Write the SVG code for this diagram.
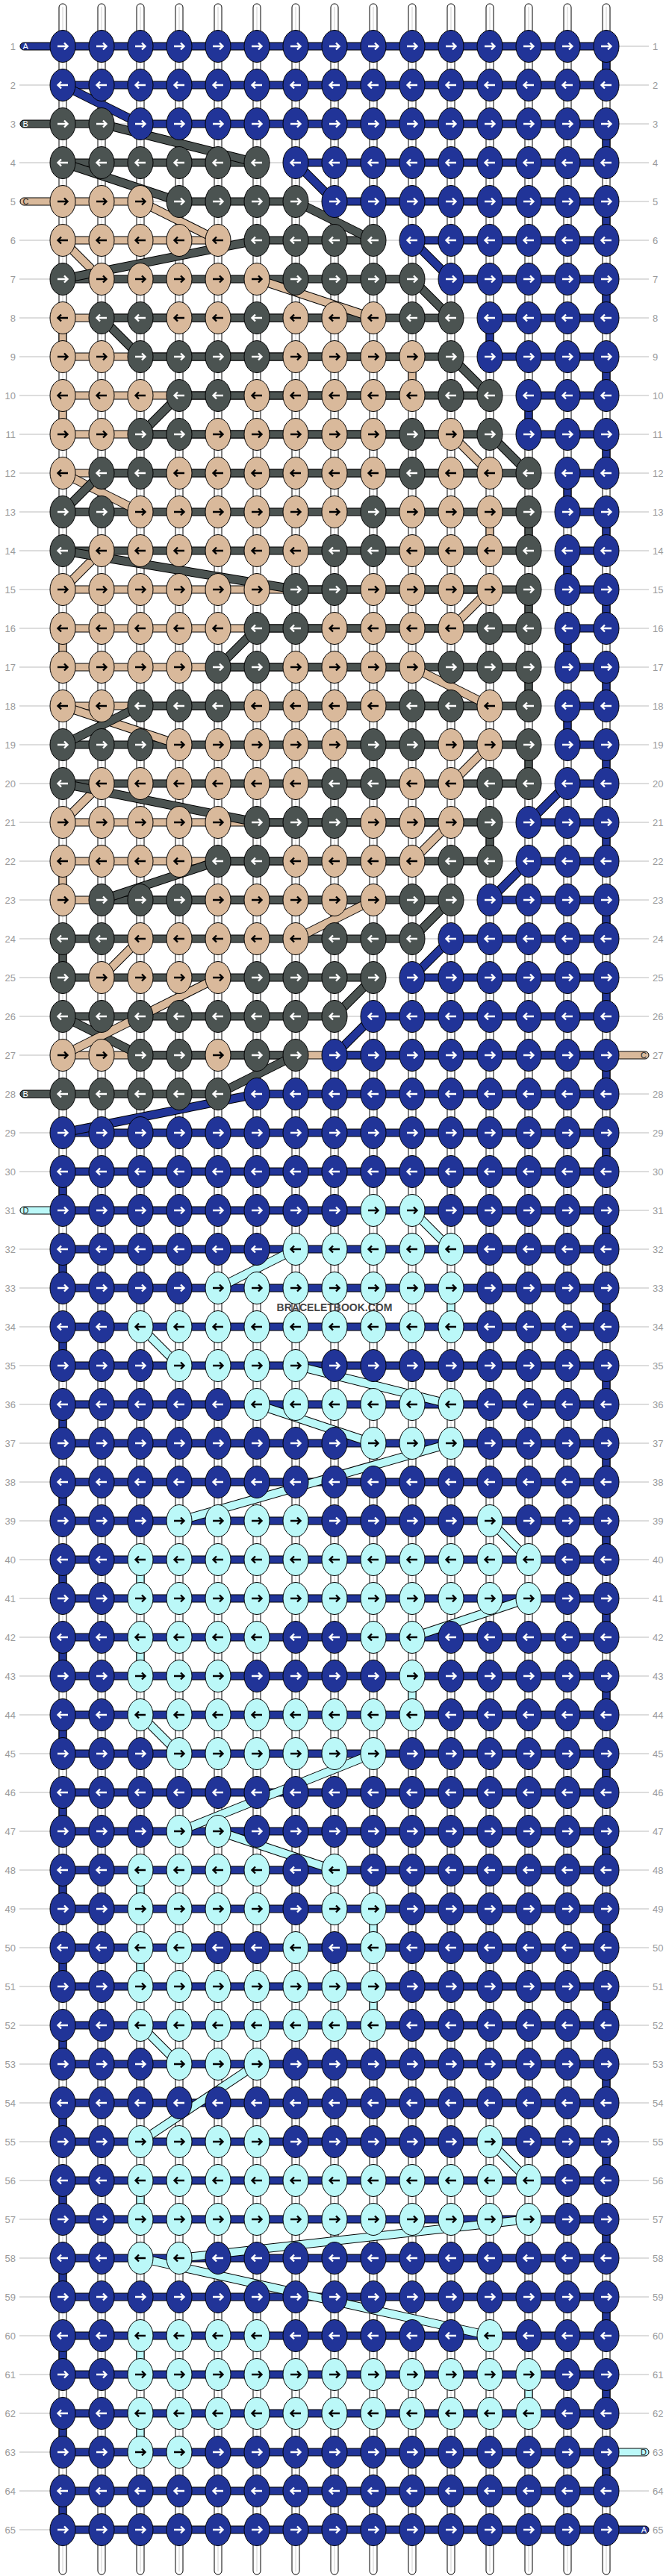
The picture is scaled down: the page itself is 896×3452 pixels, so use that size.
<svg xmlns="http://www.w3.org/2000/svg" xmlns:xlink="http://www.w3.org/1999/xlink" width="896" height="3452" viewBox="0 0 896 3452">
<style>
.ws{fill:#fff;stroke:#000;stroke-width:1}
.wc{stroke:#cfcfcf;stroke-width:1}
.gl{stroke:#bbb;stroke-width:1}
.n{font-family:"Liberation Sans",Arial,sans-serif;font-size:13px;fill:#9a9a9a}
.l{text-anchor:end}
.r{text-anchor:start}
.lb{font-family:"Liberation Sans",Arial,sans-serif;font-size:11px}
.o{stroke:#000;stroke-width:1}
.B{fill:#213498}
.D{fill:#4b5351}
.T{fill:#d9b99b}
.C{fill:#bbf8f8}
.ok{fill:none;stroke:#000;stroke-width:12}
.sB{fill:none;stroke:#213498;stroke-width:10}
.sD{fill:none;stroke:#4b5351;stroke-width:10}
.sT{fill:none;stroke:#d9b99b;stroke-width:10}
.sC{fill:none;stroke:#bbf8f8;stroke-width:10}
.aw{fill:none;stroke:#fff;stroke-width:2.4}
.ak{fill:none;stroke:#000;stroke-width:2.4}
.wm{font-family:"Liberation Sans",Arial,sans-serif;font-size:14px;font-weight:bold;fill:#444;text-anchor:middle}
</style>
<defs>
<path id="ar" d="M-7 0H6M2-4.5L6.5 0L2 4.5"/>
<path id="al" d="M7 0H-6M-2-4.5L-6.5 0L-2 4.5"/>
<g id="BR"><ellipse class="o B" rx="17" ry="21.5"/><use href="#ar" class="aw"/></g>
<g id="BL"><ellipse class="o B" rx="17" ry="21.5"/><use href="#al" class="aw"/></g>
<g id="DR"><ellipse class="o D" rx="17" ry="21.5"/><use href="#ar" class="aw"/></g>
<g id="DL"><ellipse class="o D" rx="17" ry="21.5"/><use href="#al" class="aw"/></g>
<g id="TR"><ellipse class="o T" rx="17" ry="21.5"/><use href="#ar" class="ak"/></g>
<g id="TL"><ellipse class="o T" rx="17" ry="21.5"/><use href="#al" class="ak"/></g>
<g id="CR"><ellipse class="o C" rx="17" ry="21.5"/><use href="#ar" class="ak"/></g>
<g id="CL"><ellipse class="o C" rx="17" ry="21.5"/><use href="#al" class="ak"/></g>
<g id="wstr"><rect class="ws" x="-5" y="5" width="10" height="3445" rx="5"/><line class="wc" x1="0" y1="9" x2="0" y2="3446"/></g>
<g id="gr"><line class="gl" x1="26" y1="0" x2="869" y2="0"/></g>
</defs>
<rect width="896" height="3452" fill="#fff"/>
<g id="guides">
<g transform="translate(0,62)"><use href="#gr"/><text class="n l" x="21" y="4.5">1</text><text class="n r" x="874" y="4.5">1</text></g>
<g transform="translate(0,114)"><use href="#gr"/><text class="n l" x="21" y="4.5">2</text><text class="n r" x="874" y="4.5">2</text></g>
<g transform="translate(0,166)"><use href="#gr"/><text class="n l" x="21" y="4.5">3</text><text class="n r" x="874" y="4.5">3</text></g>
<g transform="translate(0,218)"><use href="#gr"/><text class="n l" x="21" y="4.5">4</text><text class="n r" x="874" y="4.5">4</text></g>
<g transform="translate(0,270)"><use href="#gr"/><text class="n l" x="21" y="4.5">5</text><text class="n r" x="874" y="4.5">5</text></g>
<g transform="translate(0,322)"><use href="#gr"/><text class="n l" x="21" y="4.5">6</text><text class="n r" x="874" y="4.5">6</text></g>
<g transform="translate(0,374)"><use href="#gr"/><text class="n l" x="21" y="4.5">7</text><text class="n r" x="874" y="4.5">7</text></g>
<g transform="translate(0,426)"><use href="#gr"/><text class="n l" x="21" y="4.5">8</text><text class="n r" x="874" y="4.5">8</text></g>
<g transform="translate(0,478)"><use href="#gr"/><text class="n l" x="21" y="4.5">9</text><text class="n r" x="874" y="4.5">9</text></g>
<g transform="translate(0,530)"><use href="#gr"/><text class="n l" x="21" y="4.5">10</text><text class="n r" x="874" y="4.5">10</text></g>
<g transform="translate(0,582)"><use href="#gr"/><text class="n l" x="21" y="4.5">11</text><text class="n r" x="874" y="4.5">11</text></g>
<g transform="translate(0,634)"><use href="#gr"/><text class="n l" x="21" y="4.5">12</text><text class="n r" x="874" y="4.5">12</text></g>
<g transform="translate(0,686)"><use href="#gr"/><text class="n l" x="21" y="4.5">13</text><text class="n r" x="874" y="4.5">13</text></g>
<g transform="translate(0,738)"><use href="#gr"/><text class="n l" x="21" y="4.5">14</text><text class="n r" x="874" y="4.5">14</text></g>
<g transform="translate(0,790)"><use href="#gr"/><text class="n l" x="21" y="4.5">15</text><text class="n r" x="874" y="4.5">15</text></g>
<g transform="translate(0,842)"><use href="#gr"/><text class="n l" x="21" y="4.5">16</text><text class="n r" x="874" y="4.5">16</text></g>
<g transform="translate(0,894)"><use href="#gr"/><text class="n l" x="21" y="4.5">17</text><text class="n r" x="874" y="4.5">17</text></g>
<g transform="translate(0,946)"><use href="#gr"/><text class="n l" x="21" y="4.5">18</text><text class="n r" x="874" y="4.5">18</text></g>
<g transform="translate(0,998)"><use href="#gr"/><text class="n l" x="21" y="4.5">19</text><text class="n r" x="874" y="4.5">19</text></g>
<g transform="translate(0,1050)"><use href="#gr"/><text class="n l" x="21" y="4.5">20</text><text class="n r" x="874" y="4.5">20</text></g>
<g transform="translate(0,1102)"><use href="#gr"/><text class="n l" x="21" y="4.5">21</text><text class="n r" x="874" y="4.5">21</text></g>
<g transform="translate(0,1154)"><use href="#gr"/><text class="n l" x="21" y="4.5">22</text><text class="n r" x="874" y="4.5">22</text></g>
<g transform="translate(0,1206)"><use href="#gr"/><text class="n l" x="21" y="4.5">23</text><text class="n r" x="874" y="4.5">23</text></g>
<g transform="translate(0,1258)"><use href="#gr"/><text class="n l" x="21" y="4.5">24</text><text class="n r" x="874" y="4.5">24</text></g>
<g transform="translate(0,1310)"><use href="#gr"/><text class="n l" x="21" y="4.5">25</text><text class="n r" x="874" y="4.5">25</text></g>
<g transform="translate(0,1362)"><use href="#gr"/><text class="n l" x="21" y="4.5">26</text><text class="n r" x="874" y="4.5">26</text></g>
<g transform="translate(0,1414)"><use href="#gr"/><text class="n l" x="21" y="4.5">27</text><text class="n r" x="874" y="4.5">27</text></g>
<g transform="translate(0,1466)"><use href="#gr"/><text class="n l" x="21" y="4.5">28</text><text class="n r" x="874" y="4.5">28</text></g>
<g transform="translate(0,1518)"><use href="#gr"/><text class="n l" x="21" y="4.5">29</text><text class="n r" x="874" y="4.5">29</text></g>
<g transform="translate(0,1570)"><use href="#gr"/><text class="n l" x="21" y="4.5">30</text><text class="n r" x="874" y="4.5">30</text></g>
<g transform="translate(0,1622)"><use href="#gr"/><text class="n l" x="21" y="4.5">31</text><text class="n r" x="874" y="4.5">31</text></g>
<g transform="translate(0,1674)"><use href="#gr"/><text class="n l" x="21" y="4.5">32</text><text class="n r" x="874" y="4.5">32</text></g>
<g transform="translate(0,1726)"><use href="#gr"/><text class="n l" x="21" y="4.5">33</text><text class="n r" x="874" y="4.5">33</text></g>
<g transform="translate(0,1778)"><use href="#gr"/><text class="n l" x="21" y="4.5">34</text><text class="n r" x="874" y="4.5">34</text></g>
<g transform="translate(0,1830)"><use href="#gr"/><text class="n l" x="21" y="4.5">35</text><text class="n r" x="874" y="4.5">35</text></g>
<g transform="translate(0,1882)"><use href="#gr"/><text class="n l" x="21" y="4.5">36</text><text class="n r" x="874" y="4.5">36</text></g>
<g transform="translate(0,1934)"><use href="#gr"/><text class="n l" x="21" y="4.5">37</text><text class="n r" x="874" y="4.5">37</text></g>
<g transform="translate(0,1986)"><use href="#gr"/><text class="n l" x="21" y="4.5">38</text><text class="n r" x="874" y="4.5">38</text></g>
<g transform="translate(0,2038)"><use href="#gr"/><text class="n l" x="21" y="4.5">39</text><text class="n r" x="874" y="4.5">39</text></g>
<g transform="translate(0,2090)"><use href="#gr"/><text class="n l" x="21" y="4.5">40</text><text class="n r" x="874" y="4.5">40</text></g>
<g transform="translate(0,2142)"><use href="#gr"/><text class="n l" x="21" y="4.5">41</text><text class="n r" x="874" y="4.5">41</text></g>
<g transform="translate(0,2194)"><use href="#gr"/><text class="n l" x="21" y="4.5">42</text><text class="n r" x="874" y="4.5">42</text></g>
<g transform="translate(0,2246)"><use href="#gr"/><text class="n l" x="21" y="4.5">43</text><text class="n r" x="874" y="4.5">43</text></g>
<g transform="translate(0,2298)"><use href="#gr"/><text class="n l" x="21" y="4.5">44</text><text class="n r" x="874" y="4.5">44</text></g>
<g transform="translate(0,2350)"><use href="#gr"/><text class="n l" x="21" y="4.5">45</text><text class="n r" x="874" y="4.5">45</text></g>
<g transform="translate(0,2402)"><use href="#gr"/><text class="n l" x="21" y="4.5">46</text><text class="n r" x="874" y="4.5">46</text></g>
<g transform="translate(0,2454)"><use href="#gr"/><text class="n l" x="21" y="4.5">47</text><text class="n r" x="874" y="4.5">47</text></g>
<g transform="translate(0,2506)"><use href="#gr"/><text class="n l" x="21" y="4.5">48</text><text class="n r" x="874" y="4.5">48</text></g>
<g transform="translate(0,2558)"><use href="#gr"/><text class="n l" x="21" y="4.5">49</text><text class="n r" x="874" y="4.5">49</text></g>
<g transform="translate(0,2610)"><use href="#gr"/><text class="n l" x="21" y="4.5">50</text><text class="n r" x="874" y="4.5">50</text></g>
<g transform="translate(0,2662)"><use href="#gr"/><text class="n l" x="21" y="4.5">51</text><text class="n r" x="874" y="4.5">51</text></g>
<g transform="translate(0,2714)"><use href="#gr"/><text class="n l" x="21" y="4.5">52</text><text class="n r" x="874" y="4.5">52</text></g>
<g transform="translate(0,2766)"><use href="#gr"/><text class="n l" x="21" y="4.5">53</text><text class="n r" x="874" y="4.5">53</text></g>
<g transform="translate(0,2818)"><use href="#gr"/><text class="n l" x="21" y="4.5">54</text><text class="n r" x="874" y="4.5">54</text></g>
<g transform="translate(0,2870)"><use href="#gr"/><text class="n l" x="21" y="4.5">55</text><text class="n r" x="874" y="4.5">55</text></g>
<g transform="translate(0,2922)"><use href="#gr"/><text class="n l" x="21" y="4.5">56</text><text class="n r" x="874" y="4.5">56</text></g>
<g transform="translate(0,2974)"><use href="#gr"/><text class="n l" x="21" y="4.5">57</text><text class="n r" x="874" y="4.5">57</text></g>
<g transform="translate(0,3026)"><use href="#gr"/><text class="n l" x="21" y="4.5">58</text><text class="n r" x="874" y="4.5">58</text></g>
<g transform="translate(0,3078)"><use href="#gr"/><text class="n l" x="21" y="4.5">59</text><text class="n r" x="874" y="4.5">59</text></g>
<g transform="translate(0,3130)"><use href="#gr"/><text class="n l" x="21" y="4.5">60</text><text class="n r" x="874" y="4.5">60</text></g>
<g transform="translate(0,3182)"><use href="#gr"/><text class="n l" x="21" y="4.5">61</text><text class="n r" x="874" y="4.5">61</text></g>
<g transform="translate(0,3234)"><use href="#gr"/><text class="n l" x="21" y="4.5">62</text><text class="n r" x="874" y="4.5">62</text></g>
<g transform="translate(0,3286)"><use href="#gr"/><text class="n l" x="21" y="4.5">63</text><text class="n r" x="874" y="4.5">63</text></g>
<g transform="translate(0,3338)"><use href="#gr"/><text class="n l" x="21" y="4.5">64</text><text class="n r" x="874" y="4.5">64</text></g>
<g transform="translate(0,3390)"><use href="#gr"/><text class="n l" x="21" y="4.5">65</text><text class="n r" x="874" y="4.5">65</text></g>
</g>
<g id="strings">
<use href="#wstr" x="84"/><use href="#wstr" x="136"/><use href="#wstr" x="188"/><use href="#wstr" x="240"/><use href="#wstr" x="292"/><use href="#wstr" x="344"/><use href="#wstr" x="396"/><use href="#wstr" x="448"/><use href="#wstr" x="500"/><use href="#wstr" x="552"/><use href="#wstr" x="604"/><use href="#wstr" x="656"/><use href="#wstr" x="708"/><use href="#wstr" x="760"/><use href="#wstr" x="812"/>
</g>
<g id="connectors">
<g id="verticals">
<rect class="o B" x="807" y="62" width="10" height="52"/><rect class="o B" x="807" y="166" width="10" height="52"/><rect class="o B" x="807" y="270" width="10" height="52"/><rect class="o B" x="807" y="374" width="10" height="52"/><rect class="o B" x="807" y="478" width="10" height="52"/><rect class="o B" x="807" y="582" width="10" height="52"/><rect class="o B" x="807" y="686" width="10" height="52"/><rect class="o B" x="807" y="790" width="10" height="52"/><rect class="o B" x="807" y="894" width="10" height="52"/><rect class="o B" x="807" y="998" width="10" height="52"/><rect class="o B" x="807" y="1102" width="10" height="52"/><rect class="o B" x="807" y="1206" width="10" height="52"/><rect class="o B" x="807" y="1310" width="10" height="52"/><rect class="o B" x="807" y="1414" width="10" height="52"/><rect class="o B" x="807" y="1518" width="10" height="52"/><rect class="o B" x="807" y="1622" width="10" height="52"/><rect class="o B" x="807" y="1726" width="10" height="52"/><rect class="o B" x="807" y="1830" width="10" height="52"/><rect class="o B" x="807" y="1934" width="10" height="52"/><rect class="o B" x="807" y="2038" width="10" height="52"/><rect class="o B" x="807" y="2142" width="10" height="52"/><rect class="o B" x="807" y="2246" width="10" height="52"/><rect class="o B" x="807" y="2350" width="10" height="52"/><rect class="o B" x="807" y="2454" width="10" height="52"/><rect class="o B" x="807" y="2558" width="10" height="52"/><rect class="o B" x="807" y="2662" width="10" height="52"/><rect class="o B" x="807" y="2766" width="10" height="52"/><rect class="o B" x="807" y="2870" width="10" height="52"/><rect class="o B" x="807" y="2974" width="10" height="52"/><rect class="o B" x="807" y="3078" width="10" height="52"/><rect class="o B" x="807" y="3182" width="10" height="52"/><rect class="o B" x="807" y="3286" width="10" height="52"/>
<rect class="o B" x="79" y="1570" width="10" height="52"/><rect class="o B" x="79" y="1674" width="10" height="52"/><rect class="o B" x="79" y="1778" width="10" height="52"/><rect class="o B" x="79" y="1882" width="10" height="52"/><rect class="o B" x="79" y="1986" width="10" height="52"/><rect class="o B" x="79" y="2090" width="10" height="52"/><rect class="o B" x="79" y="2194" width="10" height="52"/><rect class="o B" x="79" y="2298" width="10" height="52"/><rect class="o B" x="79" y="2402" width="10" height="52"/><rect class="o B" x="79" y="2506" width="10" height="52"/><rect class="o B" x="79" y="2610" width="10" height="52"/><rect class="o B" x="79" y="2714" width="10" height="52"/><rect class="o B" x="79" y="2818" width="10" height="52"/><rect class="o B" x="79" y="2922" width="10" height="52"/><rect class="o B" x="79" y="3026" width="10" height="52"/><rect class="o B" x="79" y="3130" width="10" height="52"/><rect class="o B" x="79" y="3234" width="10" height="52"/><rect class="o B" x="79" y="3338" width="10" height="52"/>
<rect class="o B" x="651" y="426" width="10" height="52"/><rect class="o B" x="703" y="530" width="10" height="52"/><rect class="o B" x="755" y="634" width="10" height="52"/><rect class="o B" x="755" y="738" width="10" height="52"/><rect class="o B" x="755" y="842" width="10" height="52"/><rect class="o B" x="755" y="946" width="10" height="52"/>
<rect class="o D" x="703" y="686" width="10" height="52"/><rect class="o D" x="703" y="790" width="10" height="52"/><rect class="o D" x="703" y="894" width="10" height="52"/><rect class="o D" x="703" y="998" width="10" height="52"/><rect class="o D" x="651" y="1102" width="10" height="52"/><rect class="o D" x="79" y="1258" width="10" height="52"/>
<rect class="o T" x="79" y="426" width="10" height="52"/><rect class="o T" x="547" y="478" width="10" height="52"/><rect class="o T" x="79" y="530" width="10" height="52"/><rect class="o T" x="651" y="686" width="10" height="52"/><rect class="o T" x="79" y="842" width="10" height="52"/><rect class="o T" x="79" y="1154" width="10" height="52"/>
<rect class="o C" x="599" y="1726" width="10" height="52"/><rect class="o C" x="183" y="2090" width="10" height="52"/><rect class="o C" x="183" y="2194" width="10" height="52"/><rect class="o C" x="547" y="2246" width="10" height="52"/><rect class="o C" x="183" y="2506" width="10" height="52"/><rect class="o C" x="495" y="2558" width="10" height="52"/><rect class="o C" x="183" y="2610" width="10" height="52"/><rect class="o C" x="495" y="2662" width="10" height="52"/><rect class="o C" x="183" y="2922" width="10" height="52"/><rect class="o C" x="183" y="3130" width="10" height="52"/><rect class="o C" x="703" y="3182" width="10" height="52"/><rect class="o C" x="183" y="3234" width="10" height="52"/>
</g>
<g id="bars">
<rect class="o B" x="84" y="57" width="728" height="10"/>
<rect class="o B" x="84" y="109" width="728" height="10"/>
<rect class="o D" x="84" y="161" width="52" height="10"/><rect class="o B" x="188" y="161" width="624" height="10"/>
<rect class="o D" x="84" y="213" width="260" height="10"/><rect class="o B" x="396" y="213" width="416" height="10"/>
<rect class="o T" x="84" y="265" width="104" height="10"/><rect class="o D" x="240" y="265" width="156" height="10"/><rect class="o B" x="448" y="265" width="364" height="10"/>
<rect class="o T" x="84" y="317" width="208" height="10"/><rect class="o D" x="344" y="317" width="156" height="10"/><rect class="o B" x="552" y="317" width="260" height="10"/>
<rect class="o D" x="84" y="369" width="468" height="10"/><rect class="o B" x="604" y="369" width="208" height="10"/>
<rect class="o T" x="84" y="421" width="416" height="10"/><rect class="o D" x="136" y="421" width="468" height="10"/><rect class="o B" x="656" y="421" width="156" height="10"/>
<rect class="o T" x="84" y="473" width="468" height="10"/><rect class="o D" x="188" y="473" width="416" height="10"/><rect class="o B" x="656" y="473" width="156" height="10"/>
<rect class="o T" x="84" y="525" width="468" height="10"/><rect class="o D" x="240" y="525" width="416" height="10"/><rect class="o B" x="708" y="525" width="104" height="10"/>
<rect class="o T" x="84" y="577" width="520" height="10"/><rect class="o D" x="188" y="577" width="468" height="10"/><rect class="o B" x="708" y="577" width="104" height="10"/>
<rect class="o T" x="84" y="629" width="572" height="10"/><rect class="o D" x="136" y="629" width="572" height="10"/><rect class="o B" x="760" y="629" width="52" height="10"/>
<rect class="o D" x="84" y="681" width="624" height="10"/><rect class="o B" x="760" y="681" width="52" height="10"/>
<rect class="o D" x="84" y="733" width="624" height="10"/><rect class="o B" x="760" y="733" width="52" height="10"/>
<rect class="o T" x="84" y="785" width="572" height="10"/><rect class="o D" x="396" y="785" width="312" height="10"/><rect class="o B" x="760" y="785" width="52" height="10"/>
<rect class="o T" x="84" y="837" width="520" height="10"/><rect class="o D" x="344" y="837" width="364" height="10"/><rect class="o B" x="760" y="837" width="52" height="10"/>
<rect class="o T" x="84" y="889" width="468" height="10"/><rect class="o D" x="292" y="889" width="416" height="10"/><rect class="o B" x="760" y="889" width="52" height="10"/>
<rect class="o T" x="84" y="941" width="572" height="10"/><rect class="o D" x="188" y="941" width="520" height="10"/><rect class="o B" x="760" y="941" width="52" height="10"/>
<rect class="o D" x="84" y="993" width="624" height="10"/><rect class="o B" x="760" y="993" width="52" height="10"/>
<rect class="o D" x="84" y="1045" width="624" height="10"/><rect class="o B" x="760" y="1045" width="52" height="10"/>
<rect class="o T" x="84" y="1097" width="520" height="10"/><rect class="o D" x="344" y="1097" width="312" height="10"/><rect class="o B" x="708" y="1097" width="104" height="10"/>
<rect class="o T" x="84" y="1149" width="468" height="10"/><rect class="o D" x="292" y="1149" width="364" height="10"/><rect class="o B" x="708" y="1149" width="104" height="10"/>
<rect class="o T" x="84" y="1201" width="416" height="10"/><rect class="o D" x="136" y="1201" width="468" height="10"/><rect class="o B" x="656" y="1201" width="156" height="10"/>
<rect class="o D" x="84" y="1253" width="468" height="10"/><rect class="o B" x="604" y="1253" width="208" height="10"/>
<rect class="o D" x="84" y="1305" width="416" height="10"/><rect class="o B" x="552" y="1305" width="260" height="10"/>
<rect class="o D" x="84" y="1357" width="364" height="10"/><rect class="o B" x="500" y="1357" width="312" height="10"/>
<rect class="o T" x="84" y="1409" width="728" height="10"/><rect class="o D" x="188" y="1409" width="208" height="10"/><rect class="o B" x="448" y="1409" width="364" height="10"/>
<rect class="o D" x="84" y="1461" width="208" height="10"/><rect class="o B" x="344" y="1461" width="468" height="10"/>
<rect class="o B" x="84" y="1513" width="728" height="10"/>
<rect class="o B" x="84" y="1565" width="728" height="10"/>
<rect class="o B" x="84" y="1617" width="728" height="10"/>
<rect class="o B" x="84" y="1669" width="728" height="10"/>
<rect class="o B" x="84" y="1721" width="728" height="10"/>
<rect class="o B" x="84" y="1773" width="728" height="10"/>
<rect class="o B" x="84" y="1825" width="728" height="10"/>
<rect class="o B" x="84" y="1877" width="728" height="10"/>
<rect class="o B" x="84" y="1929" width="728" height="10"/>
<rect class="o B" x="84" y="1981" width="728" height="10"/>
<rect class="o B" x="84" y="2033" width="728" height="10"/>
<rect class="o B" x="84" y="2085" width="728" height="10"/>
<rect class="o B" x="84" y="2137" width="728" height="10"/>
<rect class="o B" x="84" y="2189" width="728" height="10"/>
<rect class="o B" x="84" y="2241" width="728" height="10"/>
<rect class="o B" x="84" y="2293" width="728" height="10"/>
<rect class="o B" x="84" y="2345" width="728" height="10"/>
<rect class="o B" x="84" y="2397" width="728" height="10"/>
<rect class="o B" x="84" y="2449" width="728" height="10"/>
<rect class="o B" x="84" y="2501" width="728" height="10"/>
<rect class="o B" x="84" y="2553" width="728" height="10"/>
<rect class="o B" x="84" y="2605" width="728" height="10"/>
<rect class="o B" x="84" y="2657" width="728" height="10"/>
<rect class="o B" x="84" y="2709" width="728" height="10"/>
<rect class="o B" x="84" y="2761" width="728" height="10"/>
<rect class="o B" x="84" y="2813" width="728" height="10"/>
<rect class="o B" x="84" y="2865" width="728" height="10"/>
<rect class="o B" x="84" y="2917" width="728" height="10"/>
<rect class="o B" x="84" y="2969" width="728" height="10"/>
<rect class="o B" x="84" y="3021" width="728" height="10"/>
<rect class="o B" x="84" y="3073" width="728" height="10"/>
<rect class="o B" x="84" y="3125" width="728" height="10"/>
<rect class="o B" x="84" y="3177" width="728" height="10"/>
<rect class="o B" x="84" y="3229" width="728" height="10"/>
<rect class="o B" x="84" y="3281" width="728" height="10"/>
<rect class="o B" x="84" y="3333" width="728" height="10"/>
<rect class="o B" x="84" y="3385" width="728" height="10"/>
</g>
<g id="diagonals">
<path class="ok" d="M84 114L188 166"/><path class="sB" d="M84 114L188 166"/>
<path class="ok" d="M136 166L344 218"/><path class="sD" d="M136 166L344 218"/>
<path class="ok" d="M396 218L448 270"/><path class="sB" d="M396 218L448 270"/>
<path class="ok" d="M84 218L240 270"/><path class="sD" d="M84 218L240 270"/>
<path class="ok" d="M188 270L292 322"/><path class="sT" d="M188 270L292 322"/>
<path class="ok" d="M396 270L500 322"/><path class="sD" d="M396 270L500 322"/>
<path class="ok" d="M552 322L604 374"/><path class="sB" d="M552 322L604 374"/>
<path class="ok" d="M84 322L136 374"/><path class="sT" d="M84 322L136 374"/>
<path class="ok" d="M344 322L84 374"/><path class="sD" d="M344 322L84 374"/>
<path class="ok" d="M344 374L500 426"/><path class="sT" d="M344 374L500 426"/>
<path class="ok" d="M552 374L604 426"/><path class="sD" d="M552 374L604 426"/>
<path class="ok" d="M136 426L188 478"/><path class="sD" d="M136 426L188 478"/>
<path class="ok" d="M604 478L656 530"/><path class="sD" d="M604 478L656 530"/>
<path class="ok" d="M240 530L188 582"/><path class="sD" d="M240 530L188 582"/>
<path class="ok" d="M604 582L656 634"/><path class="sT" d="M604 582L656 634"/>
<path class="ok" d="M656 582L708 634"/><path class="sD" d="M656 582L708 634"/>
<path class="ok" d="M84 634L188 686"/><path class="sT" d="M84 634L188 686"/>
<path class="ok" d="M136 634L84 686"/><path class="sD" d="M136 634L84 686"/>
<path class="ok" d="M136 738L84 790"/><path class="sT" d="M136 738L84 790"/>
<path class="ok" d="M84 738L396 790"/><path class="sD" d="M84 738L396 790"/>
<path class="ok" d="M656 790L604 842"/><path class="sT" d="M656 790L604 842"/>
<path class="ok" d="M344 842L292 894"/><path class="sD" d="M344 842L292 894"/>
<path class="ok" d="M552 894L656 946"/><path class="sT" d="M552 894L656 946"/>
<path class="ok" d="M84 946L240 998"/><path class="sT" d="M84 946L240 998"/>
<path class="ok" d="M188 946L84 998"/><path class="sD" d="M188 946L84 998"/>
<path class="ok" d="M656 998L604 1050"/><path class="sT" d="M656 998L604 1050"/>
<path class="ok" d="M136 1050L84 1102"/><path class="sT" d="M136 1050L84 1102"/>
<path class="ok" d="M84 1050L344 1102"/><path class="sD" d="M84 1050L344 1102"/>
<path class="ok" d="M760 1050L708 1102"/><path class="sB" d="M760 1050L708 1102"/>
<path class="ok" d="M604 1102L552 1154"/><path class="sT" d="M604 1102L552 1154"/>
<path class="ok" d="M292 1154L136 1206"/><path class="sD" d="M292 1154L136 1206"/>
<path class="ok" d="M708 1154L656 1206"/><path class="sB" d="M708 1154L656 1206"/>
<path class="ok" d="M500 1206L396 1258"/><path class="sT" d="M500 1206L396 1258"/>
<path class="ok" d="M604 1206L552 1258"/><path class="sD" d="M604 1206L552 1258"/>
<path class="ok" d="M188 1258L136 1310"/><path class="sT" d="M188 1258L136 1310"/>
<path class="ok" d="M604 1258L552 1310"/><path class="sB" d="M604 1258L552 1310"/>
<path class="ok" d="M292 1310L188 1362"/><path class="sT" d="M292 1310L188 1362"/>
<path class="ok" d="M500 1310L448 1362"/><path class="sD" d="M500 1310L448 1362"/>
<path class="ok" d="M84 1362L188 1414"/><path class="sD" d="M84 1362L188 1414"/>
<path class="ok" d="M188 1362L84 1414"/><path class="sT" d="M188 1362L84 1414"/>
<path class="ok" d="M500 1362L448 1414"/><path class="sB" d="M500 1362L448 1414"/>
<path class="ok" d="M396 1414L292 1466"/><path class="sD" d="M396 1414L292 1466"/>
<path class="ok" d="M344 1466L84 1518"/><path class="sB" d="M344 1466L84 1518"/>
<path class="ok" d="M552 1622L604 1674"/><path class="sC" d="M552 1622L604 1674"/>
<path class="ok" d="M396 1674L292 1726"/><path class="sC" d="M396 1674L292 1726"/>
<path class="ok" d="M188 1778L240 1830"/><path class="sC" d="M188 1778L240 1830"/>
<path class="ok" d="M396 1830L604 1882"/><path class="sC" d="M396 1830L604 1882"/>
<path class="ok" d="M344 1882L500 1934"/><path class="sC" d="M344 1882L500 1934"/>
<path class="ok" d="M604 1934L240 2038"/><path class="sC" d="M604 1934L240 2038"/>
<path class="ok" d="M656 2038L708 2090"/><path class="sC" d="M656 2038L708 2090"/>
<path class="ok" d="M708 2142L552 2194"/><path class="sC" d="M708 2142L552 2194"/>
<path class="ok" d="M188 2298L240 2350"/><path class="sC" d="M188 2298L240 2350"/>
<path class="ok" d="M500 2350L240 2454"/><path class="sC" d="M500 2350L240 2454"/>
<path class="ok" d="M292 2454L448 2506"/><path class="sC" d="M292 2454L448 2506"/>
<path class="ok" d="M188 2714L240 2766"/><path class="sC" d="M188 2714L240 2766"/>
<path class="ok" d="M344 2766L188 2870"/><path class="sC" d="M344 2766L188 2870"/>
<path class="ok" d="M656 2870L708 2922"/><path class="sC" d="M656 2870L708 2922"/>
<path class="ok" d="M708 2974L240 3026"/><path class="sC" d="M708 2974L240 3026"/>
<path class="ok" d="M188 3026L656 3130"/><path class="sC" d="M188 3026L656 3130"/>
</g>
<g id="ends">
<rect class="o B" x="27" y="57" width="62" height="10" rx="5"/><text class="lb" x="30.5" y="66" fill="#fff">A</text>
<rect class="o D" x="27" y="161" width="62" height="10" rx="5"/><text class="lb" x="30.5" y="170" fill="#fff">B</text>
<rect class="o T" x="27" y="265" width="62" height="10" rx="5"/><text class="lb" x="30.5" y="274" fill="#222">C</text>
<rect class="o D" x="27" y="1461" width="62" height="10" rx="5"/><text class="lb" x="30.5" y="1470" fill="#fff">B</text>
<rect class="o C" x="27" y="1617" width="62" height="10" rx="5"/><text class="lb" x="30.5" y="1626" fill="#222">D</text>
<rect class="o T" x="807" y="1409" width="62" height="10" rx="5"/><text class="lb" x="866" y="1418" fill="#222" text-anchor="end">C</text>
<rect class="o C" x="807" y="3281" width="62" height="10" rx="5"/><text class="lb" x="866" y="3290" fill="#222" text-anchor="end">D</text>
<rect class="o B" x="807" y="3385" width="62" height="10" rx="5"/><text class="lb" x="866" y="3394" fill="#fff" text-anchor="end">A</text>
</g>
</g>
<g id="knots">
<g transform="translate(0,62)"><g id="k1_1"><use href="#BR" x="84"/></g><g id="k1_2"><use href="#BR" x="136"/></g><g id="k1_3"><use href="#BR" x="188"/></g><g id="k1_4"><use href="#BR" x="240"/></g><g id="k1_5"><use href="#BR" x="292"/></g><g id="k1_6"><use href="#BR" x="344"/></g><g id="k1_7"><use href="#BR" x="396"/></g><g id="k1_8"><use href="#BR" x="448"/></g><g id="k1_9"><use href="#BR" x="500"/></g><g id="k1_10"><use href="#BR" x="552"/></g><g id="k1_11"><use href="#BR" x="604"/></g><g id="k1_12"><use href="#BR" x="656"/></g><g id="k1_13"><use href="#BR" x="708"/></g><g id="k1_14"><use href="#BR" x="760"/></g><g id="k1_15"><use href="#BR" x="812"/></g></g>
<g transform="translate(0,114)"><g id="k2_1"><use href="#BL" x="84"/></g><g id="k2_2"><use href="#BL" x="136"/></g><g id="k2_3"><use href="#BL" x="188"/></g><g id="k2_4"><use href="#BL" x="240"/></g><g id="k2_5"><use href="#BL" x="292"/></g><g id="k2_6"><use href="#BL" x="344"/></g><g id="k2_7"><use href="#BL" x="396"/></g><g id="k2_8"><use href="#BL" x="448"/></g><g id="k2_9"><use href="#BL" x="500"/></g><g id="k2_10"><use href="#BL" x="552"/></g><g id="k2_11"><use href="#BL" x="604"/></g><g id="k2_12"><use href="#BL" x="656"/></g><g id="k2_13"><use href="#BL" x="708"/></g><g id="k2_14"><use href="#BL" x="760"/></g><g id="k2_15"><use href="#BL" x="812"/></g></g>
<g transform="translate(0,166)"><g id="k3_1"><use href="#DR" x="84"/></g><g id="k3_2"><use href="#DR" x="136"/></g><g id="k3_3"><use href="#BR" x="188"/></g><g id="k3_4"><use href="#BR" x="240"/></g><g id="k3_5"><use href="#BR" x="292"/></g><g id="k3_6"><use href="#BR" x="344"/></g><g id="k3_7"><use href="#BR" x="396"/></g><g id="k3_8"><use href="#BR" x="448"/></g><g id="k3_9"><use href="#BR" x="500"/></g><g id="k3_10"><use href="#BR" x="552"/></g><g id="k3_11"><use href="#BR" x="604"/></g><g id="k3_12"><use href="#BR" x="656"/></g><g id="k3_13"><use href="#BR" x="708"/></g><g id="k3_14"><use href="#BR" x="760"/></g><g id="k3_15"><use href="#BR" x="812"/></g></g>
<g transform="translate(0,218)"><g id="k4_1"><use href="#DL" x="84"/></g><g id="k4_2"><use href="#DL" x="136"/></g><g id="k4_3"><use href="#DL" x="188"/></g><g id="k4_4"><use href="#DL" x="240"/></g><g id="k4_5"><use href="#DL" x="292"/></g><g id="k4_6"><use href="#DL" x="344"/></g><g id="k4_7"><use href="#BL" x="396"/></g><g id="k4_8"><use href="#BL" x="448"/></g><g id="k4_9"><use href="#BL" x="500"/></g><g id="k4_10"><use href="#BL" x="552"/></g><g id="k4_11"><use href="#BL" x="604"/></g><g id="k4_12"><use href="#BL" x="656"/></g><g id="k4_13"><use href="#BL" x="708"/></g><g id="k4_14"><use href="#BL" x="760"/></g><g id="k4_15"><use href="#BL" x="812"/></g></g>
<g transform="translate(0,270)"><g id="k5_1"><use href="#TR" x="84"/></g><g id="k5_2"><use href="#TR" x="136"/></g><g id="k5_3"><use href="#TR" x="188"/></g><g id="k5_4"><use href="#DR" x="240"/></g><g id="k5_5"><use href="#DR" x="292"/></g><g id="k5_6"><use href="#DR" x="344"/></g><g id="k5_7"><use href="#DR" x="396"/></g><g id="k5_8"><use href="#BR" x="448"/></g><g id="k5_9"><use href="#BR" x="500"/></g><g id="k5_10"><use href="#BR" x="552"/></g><g id="k5_11"><use href="#BR" x="604"/></g><g id="k5_12"><use href="#BR" x="656"/></g><g id="k5_13"><use href="#BR" x="708"/></g><g id="k5_14"><use href="#BR" x="760"/></g><g id="k5_15"><use href="#BR" x="812"/></g></g>
<g transform="translate(0,322)"><g id="k6_1"><use href="#TL" x="84"/></g><g id="k6_2"><use href="#TL" x="136"/></g><g id="k6_3"><use href="#TL" x="188"/></g><g id="k6_4"><use href="#TL" x="240"/></g><g id="k6_5"><use href="#TL" x="292"/></g><g id="k6_6"><use href="#DL" x="344"/></g><g id="k6_7"><use href="#DL" x="396"/></g><g id="k6_8"><use href="#DL" x="448"/></g><g id="k6_9"><use href="#DL" x="500"/></g><g id="k6_10"><use href="#BL" x="552"/></g><g id="k6_11"><use href="#BL" x="604"/></g><g id="k6_12"><use href="#BL" x="656"/></g><g id="k6_13"><use href="#BL" x="708"/></g><g id="k6_14"><use href="#BL" x="760"/></g><g id="k6_15"><use href="#BL" x="812"/></g></g>
<g transform="translate(0,374)"><g id="k7_1"><use href="#DR" x="84"/></g><g id="k7_2"><use href="#TR" x="136"/></g><g id="k7_3"><use href="#TR" x="188"/></g><g id="k7_4"><use href="#TR" x="240"/></g><g id="k7_5"><use href="#TR" x="292"/></g><g id="k7_6"><use href="#TR" x="344"/></g><g id="k7_7"><use href="#DR" x="396"/></g><g id="k7_8"><use href="#DR" x="448"/></g><g id="k7_9"><use href="#DR" x="500"/></g><g id="k7_10"><use href="#DR" x="552"/></g><g id="k7_11"><use href="#BR" x="604"/></g><g id="k7_12"><use href="#BR" x="656"/></g><g id="k7_13"><use href="#BR" x="708"/></g><g id="k7_14"><use href="#BR" x="760"/></g><g id="k7_15"><use href="#BR" x="812"/></g></g>
<g transform="translate(0,426)"><g id="k8_1"><use href="#TL" x="84"/></g><g id="k8_2"><use href="#DL" x="136"/></g><g id="k8_3"><use href="#DL" x="188"/></g><g id="k8_4"><use href="#TL" x="240"/></g><g id="k8_5"><use href="#TL" x="292"/></g><g id="k8_6"><use href="#DL" x="344"/></g><g id="k8_7"><use href="#TL" x="396"/></g><g id="k8_8"><use href="#TL" x="448"/></g><g id="k8_9"><use href="#TL" x="500"/></g><g id="k8_10"><use href="#DL" x="552"/></g><g id="k8_11"><use href="#DL" x="604"/></g><g id="k8_12"><use href="#BL" x="656"/></g><g id="k8_13"><use href="#BL" x="708"/></g><g id="k8_14"><use href="#BL" x="760"/></g><g id="k8_15"><use href="#BL" x="812"/></g></g>
<g transform="translate(0,478)"><g id="k9_1"><use href="#TR" x="84"/></g><g id="k9_2"><use href="#TR" x="136"/></g><g id="k9_3"><use href="#DR" x="188"/></g><g id="k9_4"><use href="#DR" x="240"/></g><g id="k9_5"><use href="#DR" x="292"/></g><g id="k9_6"><use href="#DR" x="344"/></g><g id="k9_7"><use href="#TR" x="396"/></g><g id="k9_8"><use href="#TR" x="448"/></g><g id="k9_9"><use href="#TR" x="500"/></g><g id="k9_10"><use href="#TR" x="552"/></g><g id="k9_11"><use href="#DR" x="604"/></g><g id="k9_12"><use href="#BR" x="656"/></g><g id="k9_13"><use href="#BR" x="708"/></g><g id="k9_14"><use href="#BR" x="760"/></g><g id="k9_15"><use href="#BR" x="812"/></g></g>
<g transform="translate(0,530)"><g id="k10_1"><use href="#TL" x="84"/></g><g id="k10_2"><use href="#TL" x="136"/></g><g id="k10_3"><use href="#TL" x="188"/></g><g id="k10_4"><use href="#DL" x="240"/></g><g id="k10_5"><use href="#DL" x="292"/></g><g id="k10_6"><use href="#TL" x="344"/></g><g id="k10_7"><use href="#TL" x="396"/></g><g id="k10_8"><use href="#TL" x="448"/></g><g id="k10_9"><use href="#TL" x="500"/></g><g id="k10_10"><use href="#TL" x="552"/></g><g id="k10_11"><use href="#DL" x="604"/></g><g id="k10_12"><use href="#DL" x="656"/></g><g id="k10_13"><use href="#BL" x="708"/></g><g id="k10_14"><use href="#BL" x="760"/></g><g id="k10_15"><use href="#BL" x="812"/></g></g>
<g transform="translate(0,582)"><g id="k11_1"><use href="#TR" x="84"/></g><g id="k11_2"><use href="#TR" x="136"/></g><g id="k11_3"><use href="#DR" x="188"/></g><g id="k11_4"><use href="#DR" x="240"/></g><g id="k11_5"><use href="#TR" x="292"/></g><g id="k11_6"><use href="#TR" x="344"/></g><g id="k11_7"><use href="#TR" x="396"/></g><g id="k11_8"><use href="#TR" x="448"/></g><g id="k11_9"><use href="#TR" x="500"/></g><g id="k11_10"><use href="#DR" x="552"/></g><g id="k11_11"><use href="#TR" x="604"/></g><g id="k11_12"><use href="#DR" x="656"/></g><g id="k11_13"><use href="#BR" x="708"/></g><g id="k11_14"><use href="#BR" x="760"/></g><g id="k11_15"><use href="#BR" x="812"/></g></g>
<g transform="translate(0,634)"><g id="k12_1"><use href="#TL" x="84"/></g><g id="k12_2"><use href="#DL" x="136"/></g><g id="k12_3"><use href="#DL" x="188"/></g><g id="k12_4"><use href="#TL" x="240"/></g><g id="k12_5"><use href="#TL" x="292"/></g><g id="k12_6"><use href="#TL" x="344"/></g><g id="k12_7"><use href="#TL" x="396"/></g><g id="k12_8"><use href="#TL" x="448"/></g><g id="k12_9"><use href="#TL" x="500"/></g><g id="k12_10"><use href="#DL" x="552"/></g><g id="k12_11"><use href="#TL" x="604"/></g><g id="k12_12"><use href="#TL" x="656"/></g><g id="k12_13"><use href="#DL" x="708"/></g><g id="k12_14"><use href="#BL" x="760"/></g><g id="k12_15"><use href="#BL" x="812"/></g></g>
<g transform="translate(0,686)"><g id="k13_1"><use href="#DR" x="84"/></g><g id="k13_2"><use href="#DR" x="136"/></g><g id="k13_3"><use href="#TR" x="188"/></g><g id="k13_4"><use href="#TR" x="240"/></g><g id="k13_5"><use href="#TR" x="292"/></g><g id="k13_6"><use href="#TR" x="344"/></g><g id="k13_7"><use href="#TR" x="396"/></g><g id="k13_8"><use href="#TR" x="448"/></g><g id="k13_9"><use href="#DR" x="500"/></g><g id="k13_10"><use href="#TR" x="552"/></g><g id="k13_11"><use href="#TR" x="604"/></g><g id="k13_12"><use href="#TR" x="656"/></g><g id="k13_13"><use href="#DR" x="708"/></g><g id="k13_14"><use href="#BR" x="760"/></g><g id="k13_15"><use href="#BR" x="812"/></g></g>
<g transform="translate(0,738)"><g id="k14_1"><use href="#DL" x="84"/></g><g id="k14_2"><use href="#TL" x="136"/></g><g id="k14_3"><use href="#TL" x="188"/></g><g id="k14_4"><use href="#TL" x="240"/></g><g id="k14_5"><use href="#TL" x="292"/></g><g id="k14_6"><use href="#TL" x="344"/></g><g id="k14_7"><use href="#TL" x="396"/></g><g id="k14_8"><use href="#DL" x="448"/></g><g id="k14_9"><use href="#DL" x="500"/></g><g id="k14_10"><use href="#TL" x="552"/></g><g id="k14_11"><use href="#TL" x="604"/></g><g id="k14_12"><use href="#TL" x="656"/></g><g id="k14_13"><use href="#DL" x="708"/></g><g id="k14_14"><use href="#BL" x="760"/></g><g id="k14_15"><use href="#BL" x="812"/></g></g>
<g transform="translate(0,790)"><g id="k15_1"><use href="#TR" x="84"/></g><g id="k15_2"><use href="#TR" x="136"/></g><g id="k15_3"><use href="#TR" x="188"/></g><g id="k15_4"><use href="#TR" x="240"/></g><g id="k15_5"><use href="#TR" x="292"/></g><g id="k15_6"><use href="#TR" x="344"/></g><g id="k15_7"><use href="#DR" x="396"/></g><g id="k15_8"><use href="#DR" x="448"/></g><g id="k15_9"><use href="#TR" x="500"/></g><g id="k15_10"><use href="#TR" x="552"/></g><g id="k15_11"><use href="#TR" x="604"/></g><g id="k15_12"><use href="#TR" x="656"/></g><g id="k15_13"><use href="#DR" x="708"/></g><g id="k15_14"><use href="#BR" x="760"/></g><g id="k15_15"><use href="#BR" x="812"/></g></g>
<g transform="translate(0,842)"><g id="k16_1"><use href="#TL" x="84"/></g><g id="k16_2"><use href="#TL" x="136"/></g><g id="k16_3"><use href="#TL" x="188"/></g><g id="k16_4"><use href="#TL" x="240"/></g><g id="k16_5"><use href="#TL" x="292"/></g><g id="k16_6"><use href="#DL" x="344"/></g><g id="k16_7"><use href="#DL" x="396"/></g><g id="k16_8"><use href="#TL" x="448"/></g><g id="k16_9"><use href="#TL" x="500"/></g><g id="k16_10"><use href="#TL" x="552"/></g><g id="k16_11"><use href="#TL" x="604"/></g><g id="k16_12"><use href="#DL" x="656"/></g><g id="k16_13"><use href="#DL" x="708"/></g><g id="k16_14"><use href="#BL" x="760"/></g><g id="k16_15"><use href="#BL" x="812"/></g></g>
<g transform="translate(0,894)"><g id="k17_1"><use href="#TR" x="84"/></g><g id="k17_2"><use href="#TR" x="136"/></g><g id="k17_3"><use href="#TR" x="188"/></g><g id="k17_4"><use href="#TR" x="240"/></g><g id="k17_5"><use href="#DR" x="292"/></g><g id="k17_6"><use href="#DR" x="344"/></g><g id="k17_7"><use href="#TR" x="396"/></g><g id="k17_8"><use href="#TR" x="448"/></g><g id="k17_9"><use href="#TR" x="500"/></g><g id="k17_10"><use href="#TR" x="552"/></g><g id="k17_11"><use href="#DR" x="604"/></g><g id="k17_12"><use href="#DR" x="656"/></g><g id="k17_13"><use href="#DR" x="708"/></g><g id="k17_14"><use href="#BR" x="760"/></g><g id="k17_15"><use href="#BR" x="812"/></g></g>
<g transform="translate(0,946)"><g id="k18_1"><use href="#TL" x="84"/></g><g id="k18_2"><use href="#TL" x="136"/></g><g id="k18_3"><use href="#DL" x="188"/></g><g id="k18_4"><use href="#DL" x="240"/></g><g id="k18_5"><use href="#DL" x="292"/></g><g id="k18_6"><use href="#TL" x="344"/></g><g id="k18_7"><use href="#TL" x="396"/></g><g id="k18_8"><use href="#TL" x="448"/></g><g id="k18_9"><use href="#TL" x="500"/></g><g id="k18_10"><use href="#DL" x="552"/></g><g id="k18_11"><use href="#DL" x="604"/></g><g id="k18_12"><use href="#TL" x="656"/></g><g id="k18_13"><use href="#DL" x="708"/></g><g id="k18_14"><use href="#BL" x="760"/></g><g id="k18_15"><use href="#BL" x="812"/></g></g>
<g transform="translate(0,998)"><g id="k19_1"><use href="#DR" x="84"/></g><g id="k19_2"><use href="#DR" x="136"/></g><g id="k19_3"><use href="#DR" x="188"/></g><g id="k19_4"><use href="#TR" x="240"/></g><g id="k19_5"><use href="#TR" x="292"/></g><g id="k19_6"><use href="#TR" x="344"/></g><g id="k19_7"><use href="#TR" x="396"/></g><g id="k19_8"><use href="#TR" x="448"/></g><g id="k19_9"><use href="#DR" x="500"/></g><g id="k19_10"><use href="#DR" x="552"/></g><g id="k19_11"><use href="#TR" x="604"/></g><g id="k19_12"><use href="#TR" x="656"/></g><g id="k19_13"><use href="#DR" x="708"/></g><g id="k19_14"><use href="#BR" x="760"/></g><g id="k19_15"><use href="#BR" x="812"/></g></g>
<g transform="translate(0,1050)"><g id="k20_1"><use href="#DL" x="84"/></g><g id="k20_2"><use href="#TL" x="136"/></g><g id="k20_3"><use href="#TL" x="188"/></g><g id="k20_4"><use href="#TL" x="240"/></g><g id="k20_5"><use href="#TL" x="292"/></g><g id="k20_6"><use href="#TL" x="344"/></g><g id="k20_7"><use href="#TL" x="396"/></g><g id="k20_8"><use href="#DL" x="448"/></g><g id="k20_9"><use href="#DL" x="500"/></g><g id="k20_10"><use href="#TL" x="552"/></g><g id="k20_11"><use href="#TL" x="604"/></g><g id="k20_12"><use href="#DL" x="656"/></g><g id="k20_13"><use href="#DL" x="708"/></g><g id="k20_14"><use href="#BL" x="760"/></g><g id="k20_15"><use href="#BL" x="812"/></g></g>
<g transform="translate(0,1102)"><g id="k21_1"><use href="#TR" x="84"/></g><g id="k21_2"><use href="#TR" x="136"/></g><g id="k21_3"><use href="#TR" x="188"/></g><g id="k21_4"><use href="#TR" x="240"/></g><g id="k21_5"><use href="#TR" x="292"/></g><g id="k21_6"><use href="#DR" x="344"/></g><g id="k21_7"><use href="#DR" x="396"/></g><g id="k21_8"><use href="#DR" x="448"/></g><g id="k21_9"><use href="#TR" x="500"/></g><g id="k21_10"><use href="#TR" x="552"/></g><g id="k21_11"><use href="#TR" x="604"/></g><g id="k21_12"><use href="#DR" x="656"/></g><g id="k21_13"><use href="#BR" x="708"/></g><g id="k21_14"><use href="#BR" x="760"/></g><g id="k21_15"><use href="#BR" x="812"/></g></g>
<g transform="translate(0,1154)"><g id="k22_1"><use href="#TL" x="84"/></g><g id="k22_2"><use href="#TL" x="136"/></g><g id="k22_3"><use href="#TL" x="188"/></g><g id="k22_4"><use href="#TL" x="240"/></g><g id="k22_5"><use href="#DL" x="292"/></g><g id="k22_6"><use href="#DL" x="344"/></g><g id="k22_7"><use href="#TL" x="396"/></g><g id="k22_8"><use href="#TL" x="448"/></g><g id="k22_9"><use href="#TL" x="500"/></g><g id="k22_10"><use href="#TL" x="552"/></g><g id="k22_11"><use href="#DL" x="604"/></g><g id="k22_12"><use href="#DL" x="656"/></g><g id="k22_13"><use href="#BL" x="708"/></g><g id="k22_14"><use href="#BL" x="760"/></g><g id="k22_15"><use href="#BL" x="812"/></g></g>
<g transform="translate(0,1206)"><g id="k23_1"><use href="#TR" x="84"/></g><g id="k23_2"><use href="#DR" x="136"/></g><g id="k23_3"><use href="#DR" x="188"/></g><g id="k23_4"><use href="#DR" x="240"/></g><g id="k23_5"><use href="#TR" x="292"/></g><g id="k23_6"><use href="#TR" x="344"/></g><g id="k23_7"><use href="#TR" x="396"/></g><g id="k23_8"><use href="#TR" x="448"/></g><g id="k23_9"><use href="#TR" x="500"/></g><g id="k23_10"><use href="#DR" x="552"/></g><g id="k23_11"><use href="#DR" x="604"/></g><g id="k23_12"><use href="#BR" x="656"/></g><g id="k23_13"><use href="#BR" x="708"/></g><g id="k23_14"><use href="#BR" x="760"/></g><g id="k23_15"><use href="#BR" x="812"/></g></g>
<g transform="translate(0,1258)"><g id="k24_1"><use href="#DL" x="84"/></g><g id="k24_2"><use href="#DL" x="136"/></g><g id="k24_3"><use href="#TL" x="188"/></g><g id="k24_4"><use href="#TL" x="240"/></g><g id="k24_5"><use href="#TL" x="292"/></g><g id="k24_6"><use href="#TL" x="344"/></g><g id="k24_7"><use href="#TL" x="396"/></g><g id="k24_8"><use href="#DL" x="448"/></g><g id="k24_9"><use href="#DL" x="500"/></g><g id="k24_10"><use href="#DL" x="552"/></g><g id="k24_11"><use href="#BL" x="604"/></g><g id="k24_12"><use href="#BL" x="656"/></g><g id="k24_13"><use href="#BL" x="708"/></g><g id="k24_14"><use href="#BL" x="760"/></g><g id="k24_15"><use href="#BL" x="812"/></g></g>
<g transform="translate(0,1310)"><g id="k25_1"><use href="#DR" x="84"/></g><g id="k25_2"><use href="#TR" x="136"/></g><g id="k25_3"><use href="#TR" x="188"/></g><g id="k25_4"><use href="#TR" x="240"/></g><g id="k25_5"><use href="#TR" x="292"/></g><g id="k25_6"><use href="#DR" x="344"/></g><g id="k25_7"><use href="#DR" x="396"/></g><g id="k25_8"><use href="#DR" x="448"/></g><g id="k25_9"><use href="#DR" x="500"/></g><g id="k25_10"><use href="#BR" x="552"/></g><g id="k25_11"><use href="#BR" x="604"/></g><g id="k25_12"><use href="#BR" x="656"/></g><g id="k25_13"><use href="#BR" x="708"/></g><g id="k25_14"><use href="#BR" x="760"/></g><g id="k25_15"><use href="#BR" x="812"/></g></g>
<g transform="translate(0,1362)"><g id="k26_1"><use href="#DL" x="84"/></g><g id="k26_2"><use href="#DL" x="136"/></g><g id="k26_3"><use href="#DL" x="188"/></g><g id="k26_4"><use href="#DL" x="240"/></g><g id="k26_5"><use href="#DL" x="292"/></g><g id="k26_6"><use href="#DL" x="344"/></g><g id="k26_7"><use href="#DL" x="396"/></g><g id="k26_8"><use href="#DL" x="448"/></g><g id="k26_9"><use href="#BL" x="500"/></g><g id="k26_10"><use href="#BL" x="552"/></g><g id="k26_11"><use href="#BL" x="604"/></g><g id="k26_12"><use href="#BL" x="656"/></g><g id="k26_13"><use href="#BL" x="708"/></g><g id="k26_14"><use href="#BL" x="760"/></g><g id="k26_15"><use href="#BL" x="812"/></g></g>
<g transform="translate(0,1414)"><g id="k27_1"><use href="#TR" x="84"/></g><g id="k27_2"><use href="#TR" x="136"/></g><g id="k27_3"><use href="#DR" x="188"/></g><g id="k27_4"><use href="#DR" x="240"/></g><g id="k27_5"><use href="#TR" x="292"/></g><g id="k27_6"><use href="#DR" x="344"/></g><g id="k27_7"><use href="#DR" x="396"/></g><g id="k27_8"><use href="#BR" x="448"/></g><g id="k27_9"><use href="#BR" x="500"/></g><g id="k27_10"><use href="#BR" x="552"/></g><g id="k27_11"><use href="#BR" x="604"/></g><g id="k27_12"><use href="#BR" x="656"/></g><g id="k27_13"><use href="#BR" x="708"/></g><g id="k27_14"><use href="#BR" x="760"/></g><g id="k27_15"><use href="#BR" x="812"/></g></g>
<g transform="translate(0,1466)"><g id="k28_1"><use href="#DL" x="84"/></g><g id="k28_2"><use href="#DL" x="136"/></g><g id="k28_3"><use href="#DL" x="188"/></g><g id="k28_4"><use href="#DL" x="240"/></g><g id="k28_5"><use href="#DL" x="292"/></g><g id="k28_6"><use href="#BL" x="344"/></g><g id="k28_7"><use href="#BL" x="396"/></g><g id="k28_8"><use href="#BL" x="448"/></g><g id="k28_9"><use href="#BL" x="500"/></g><g id="k28_10"><use href="#BL" x="552"/></g><g id="k28_11"><use href="#BL" x="604"/></g><g id="k28_12"><use href="#BL" x="656"/></g><g id="k28_13"><use href="#BL" x="708"/></g><g id="k28_14"><use href="#BL" x="760"/></g><g id="k28_15"><use href="#BL" x="812"/></g></g>
<g transform="translate(0,1518)"><g id="k29_1"><use href="#BR" x="84"/></g><g id="k29_2"><use href="#BR" x="136"/></g><g id="k29_3"><use href="#BR" x="188"/></g><g id="k29_4"><use href="#BR" x="240"/></g><g id="k29_5"><use href="#BR" x="292"/></g><g id="k29_6"><use href="#BR" x="344"/></g><g id="k29_7"><use href="#BR" x="396"/></g><g id="k29_8"><use href="#BR" x="448"/></g><g id="k29_9"><use href="#BR" x="500"/></g><g id="k29_10"><use href="#BR" x="552"/></g><g id="k29_11"><use href="#BR" x="604"/></g><g id="k29_12"><use href="#BR" x="656"/></g><g id="k29_13"><use href="#BR" x="708"/></g><g id="k29_14"><use href="#BR" x="760"/></g><g id="k29_15"><use href="#BR" x="812"/></g></g>
<g transform="translate(0,1570)"><g id="k30_1"><use href="#BL" x="84"/></g><g id="k30_2"><use href="#BL" x="136"/></g><g id="k30_3"><use href="#BL" x="188"/></g><g id="k30_4"><use href="#BL" x="240"/></g><g id="k30_5"><use href="#BL" x="292"/></g><g id="k30_6"><use href="#BL" x="344"/></g><g id="k30_7"><use href="#BL" x="396"/></g><g id="k30_8"><use href="#BL" x="448"/></g><g id="k30_9"><use href="#BL" x="500"/></g><g id="k30_10"><use href="#BL" x="552"/></g><g id="k30_11"><use href="#BL" x="604"/></g><g id="k30_12"><use href="#BL" x="656"/></g><g id="k30_13"><use href="#BL" x="708"/></g><g id="k30_14"><use href="#BL" x="760"/></g><g id="k30_15"><use href="#BL" x="812"/></g></g>
<g transform="translate(0,1622)"><g id="k31_1"><use href="#BR" x="84"/></g><g id="k31_2"><use href="#BR" x="136"/></g><g id="k31_3"><use href="#BR" x="188"/></g><g id="k31_4"><use href="#BR" x="240"/></g><g id="k31_5"><use href="#BR" x="292"/></g><g id="k31_6"><use href="#BR" x="344"/></g><g id="k31_7"><use href="#BR" x="396"/></g><g id="k31_8"><use href="#BR" x="448"/></g><g id="k31_9"><use href="#CR" x="500"/></g><g id="k31_10"><use href="#CR" x="552"/></g><g id="k31_11"><use href="#BR" x="604"/></g><g id="k31_12"><use href="#BR" x="656"/></g><g id="k31_13"><use href="#BR" x="708"/></g><g id="k31_14"><use href="#BR" x="760"/></g><g id="k31_15"><use href="#BR" x="812"/></g></g>
<g transform="translate(0,1674)"><g id="k32_1"><use href="#BL" x="84"/></g><g id="k32_2"><use href="#BL" x="136"/></g><g id="k32_3"><use href="#BL" x="188"/></g><g id="k32_4"><use href="#BL" x="240"/></g><g id="k32_5"><use href="#BL" x="292"/></g><g id="k32_6"><use href="#BL" x="344"/></g><g id="k32_7"><use href="#CL" x="396"/></g><g id="k32_8"><use href="#CL" x="448"/></g><g id="k32_9"><use href="#CL" x="500"/></g><g id="k32_10"><use href="#CL" x="552"/></g><g id="k32_11"><use href="#CL" x="604"/></g><g id="k32_12"><use href="#BL" x="656"/></g><g id="k32_13"><use href="#BL" x="708"/></g><g id="k32_14"><use href="#BL" x="760"/></g><g id="k32_15"><use href="#BL" x="812"/></g></g>
<g transform="translate(0,1726)"><g id="k33_1"><use href="#BR" x="84"/></g><g id="k33_2"><use href="#BR" x="136"/></g><g id="k33_3"><use href="#BR" x="188"/></g><g id="k33_4"><use href="#BR" x="240"/></g><g id="k33_5"><use href="#CR" x="292"/></g><g id="k33_6"><use href="#CR" x="344"/></g><g id="k33_7"><use href="#CR" x="396"/></g><g id="k33_8"><use href="#CR" x="448"/></g><g id="k33_9"><use href="#CR" x="500"/></g><g id="k33_10"><use href="#CR" x="552"/></g><g id="k33_11"><use href="#CR" x="604"/></g><g id="k33_12"><use href="#BR" x="656"/></g><g id="k33_13"><use href="#BR" x="708"/></g><g id="k33_14"><use href="#BR" x="760"/></g><g id="k33_15"><use href="#BR" x="812"/></g></g>
<g transform="translate(0,1778)"><g id="k34_1"><use href="#BL" x="84"/></g><g id="k34_2"><use href="#BL" x="136"/></g><g id="k34_3"><use href="#CL" x="188"/></g><g id="k34_4"><use href="#CL" x="240"/></g><g id="k34_5"><use href="#CL" x="292"/></g><g id="k34_6"><use href="#CL" x="344"/></g><g id="k34_7"><use href="#CL" x="396"/></g><g id="k34_8"><use href="#CL" x="448"/></g><g id="k34_9"><use href="#CL" x="500"/></g><g id="k34_10"><use href="#CL" x="552"/></g><g id="k34_11"><use href="#CL" x="604"/></g><g id="k34_12"><use href="#BL" x="656"/></g><g id="k34_13"><use href="#BL" x="708"/></g><g id="k34_14"><use href="#BL" x="760"/></g><g id="k34_15"><use href="#BL" x="812"/></g></g>
<g transform="translate(0,1830)"><g id="k35_1"><use href="#BR" x="84"/></g><g id="k35_2"><use href="#BR" x="136"/></g><g id="k35_3"><use href="#BR" x="188"/></g><g id="k35_4"><use href="#CR" x="240"/></g><g id="k35_5"><use href="#CR" x="292"/></g><g id="k35_6"><use href="#CR" x="344"/></g><g id="k35_7"><use href="#CR" x="396"/></g><g id="k35_8"><use href="#BR" x="448"/></g><g id="k35_9"><use href="#BR" x="500"/></g><g id="k35_10"><use href="#BR" x="552"/></g><g id="k35_11"><use href="#BR" x="604"/></g><g id="k35_12"><use href="#BR" x="656"/></g><g id="k35_13"><use href="#BR" x="708"/></g><g id="k35_14"><use href="#BR" x="760"/></g><g id="k35_15"><use href="#BR" x="812"/></g></g>
<g transform="translate(0,1882)"><g id="k36_1"><use href="#BL" x="84"/></g><g id="k36_2"><use href="#BL" x="136"/></g><g id="k36_3"><use href="#BL" x="188"/></g><g id="k36_4"><use href="#BL" x="240"/></g><g id="k36_5"><use href="#BL" x="292"/></g><g id="k36_6"><use href="#CL" x="344"/></g><g id="k36_7"><use href="#CL" x="396"/></g><g id="k36_8"><use href="#CL" x="448"/></g><g id="k36_9"><use href="#CL" x="500"/></g><g id="k36_10"><use href="#CL" x="552"/></g><g id="k36_11"><use href="#CL" x="604"/></g><g id="k36_12"><use href="#BL" x="656"/></g><g id="k36_13"><use href="#BL" x="708"/></g><g id="k36_14"><use href="#BL" x="760"/></g><g id="k36_15"><use href="#BL" x="812"/></g></g>
<g transform="translate(0,1934)"><g id="k37_1"><use href="#BR" x="84"/></g><g id="k37_2"><use href="#BR" x="136"/></g><g id="k37_3"><use href="#BR" x="188"/></g><g id="k37_4"><use href="#BR" x="240"/></g><g id="k37_5"><use href="#BR" x="292"/></g><g id="k37_6"><use href="#BR" x="344"/></g><g id="k37_7"><use href="#BR" x="396"/></g><g id="k37_8"><use href="#BR" x="448"/></g><g id="k37_9"><use href="#CR" x="500"/></g><g id="k37_10"><use href="#CR" x="552"/></g><g id="k37_11"><use href="#CR" x="604"/></g><g id="k37_12"><use href="#BR" x="656"/></g><g id="k37_13"><use href="#BR" x="708"/></g><g id="k37_14"><use href="#BR" x="760"/></g><g id="k37_15"><use href="#BR" x="812"/></g></g>
<g transform="translate(0,1986)"><g id="k38_1"><use href="#BL" x="84"/></g><g id="k38_2"><use href="#BL" x="136"/></g><g id="k38_3"><use href="#BL" x="188"/></g><g id="k38_4"><use href="#BL" x="240"/></g><g id="k38_5"><use href="#BL" x="292"/></g><g id="k38_6"><use href="#BL" x="344"/></g><g id="k38_7"><use href="#BL" x="396"/></g><g id="k38_8"><use href="#BL" x="448"/></g><g id="k38_9"><use href="#BL" x="500"/></g><g id="k38_10"><use href="#BL" x="552"/></g><g id="k38_11"><use href="#BL" x="604"/></g><g id="k38_12"><use href="#BL" x="656"/></g><g id="k38_13"><use href="#BL" x="708"/></g><g id="k38_14"><use href="#BL" x="760"/></g><g id="k38_15"><use href="#BL" x="812"/></g></g>
<g transform="translate(0,2038)"><g id="k39_1"><use href="#BR" x="84"/></g><g id="k39_2"><use href="#BR" x="136"/></g><g id="k39_3"><use href="#BR" x="188"/></g><g id="k39_4"><use href="#CR" x="240"/></g><g id="k39_5"><use href="#CR" x="292"/></g><g id="k39_6"><use href="#CR" x="344"/></g><g id="k39_7"><use href="#CR" x="396"/></g><g id="k39_8"><use href="#BR" x="448"/></g><g id="k39_9"><use href="#BR" x="500"/></g><g id="k39_10"><use href="#BR" x="552"/></g><g id="k39_11"><use href="#BR" x="604"/></g><g id="k39_12"><use href="#CR" x="656"/></g><g id="k39_13"><use href="#BR" x="708"/></g><g id="k39_14"><use href="#BR" x="760"/></g><g id="k39_15"><use href="#BR" x="812"/></g></g>
<g transform="translate(0,2090)"><g id="k40_1"><use href="#BL" x="84"/></g><g id="k40_2"><use href="#BL" x="136"/></g><g id="k40_3"><use href="#CL" x="188"/></g><g id="k40_4"><use href="#CL" x="240"/></g><g id="k40_5"><use href="#CL" x="292"/></g><g id="k40_6"><use href="#CL" x="344"/></g><g id="k40_7"><use href="#CL" x="396"/></g><g id="k40_8"><use href="#CL" x="448"/></g><g id="k40_9"><use href="#CL" x="500"/></g><g id="k40_10"><use href="#CL" x="552"/></g><g id="k40_11"><use href="#CL" x="604"/></g><g id="k40_12"><use href="#CL" x="656"/></g><g id="k40_13"><use href="#CL" x="708"/></g><g id="k40_14"><use href="#BL" x="760"/></g><g id="k40_15"><use href="#BL" x="812"/></g></g>
<g transform="translate(0,2142)"><g id="k41_1"><use href="#BR" x="84"/></g><g id="k41_2"><use href="#BR" x="136"/></g><g id="k41_3"><use href="#CR" x="188"/></g><g id="k41_4"><use href="#CR" x="240"/></g><g id="k41_5"><use href="#CR" x="292"/></g><g id="k41_6"><use href="#CR" x="344"/></g><g id="k41_7"><use href="#CR" x="396"/></g><g id="k41_8"><use href="#CR" x="448"/></g><g id="k41_9"><use href="#CR" x="500"/></g><g id="k41_10"><use href="#CR" x="552"/></g><g id="k41_11"><use href="#CR" x="604"/></g><g id="k41_12"><use href="#CR" x="656"/></g><g id="k41_13"><use href="#CR" x="708"/></g><g id="k41_14"><use href="#BR" x="760"/></g><g id="k41_15"><use href="#BR" x="812"/></g></g>
<g transform="translate(0,2194)"><g id="k42_1"><use href="#BL" x="84"/></g><g id="k42_2"><use href="#BL" x="136"/></g><g id="k42_3"><use href="#CL" x="188"/></g><g id="k42_4"><use href="#CL" x="240"/></g><g id="k42_5"><use href="#CL" x="292"/></g><g id="k42_6"><use href="#CL" x="344"/></g><g id="k42_7"><use href="#BL" x="396"/></g><g id="k42_8"><use href="#BL" x="448"/></g><g id="k42_9"><use href="#CL" x="500"/></g><g id="k42_10"><use href="#CL" x="552"/></g><g id="k42_11"><use href="#BL" x="604"/></g><g id="k42_12"><use href="#BL" x="656"/></g><g id="k42_13"><use href="#BL" x="708"/></g><g id="k42_14"><use href="#BL" x="760"/></g><g id="k42_15"><use href="#BL" x="812"/></g></g>
<g transform="translate(0,2246)"><g id="k43_1"><use href="#BR" x="84"/></g><g id="k43_2"><use href="#BR" x="136"/></g><g id="k43_3"><use href="#CR" x="188"/></g><g id="k43_4"><use href="#CR" x="240"/></g><g id="k43_5"><use href="#CR" x="292"/></g><g id="k43_6"><use href="#BR" x="344"/></g><g id="k43_7"><use href="#BR" x="396"/></g><g id="k43_8"><use href="#BR" x="448"/></g><g id="k43_9"><use href="#BR" x="500"/></g><g id="k43_10"><use href="#CR" x="552"/></g><g id="k43_11"><use href="#BR" x="604"/></g><g id="k43_12"><use href="#BR" x="656"/></g><g id="k43_13"><use href="#BR" x="708"/></g><g id="k43_14"><use href="#BR" x="760"/></g><g id="k43_15"><use href="#BR" x="812"/></g></g>
<g transform="translate(0,2298)"><g id="k44_1"><use href="#BL" x="84"/></g><g id="k44_2"><use href="#BL" x="136"/></g><g id="k44_3"><use href="#CL" x="188"/></g><g id="k44_4"><use href="#CL" x="240"/></g><g id="k44_5"><use href="#CL" x="292"/></g><g id="k44_6"><use href="#CL" x="344"/></g><g id="k44_7"><use href="#CL" x="396"/></g><g id="k44_8"><use href="#CL" x="448"/></g><g id="k44_9"><use href="#CL" x="500"/></g><g id="k44_10"><use href="#CL" x="552"/></g><g id="k44_11"><use href="#BL" x="604"/></g><g id="k44_12"><use href="#BL" x="656"/></g><g id="k44_13"><use href="#BL" x="708"/></g><g id="k44_14"><use href="#BL" x="760"/></g><g id="k44_15"><use href="#BL" x="812"/></g></g>
<g transform="translate(0,2350)"><g id="k45_1"><use href="#BR" x="84"/></g><g id="k45_2"><use href="#BR" x="136"/></g><g id="k45_3"><use href="#BR" x="188"/></g><g id="k45_4"><use href="#CR" x="240"/></g><g id="k45_5"><use href="#CR" x="292"/></g><g id="k45_6"><use href="#CR" x="344"/></g><g id="k45_7"><use href="#CR" x="396"/></g><g id="k45_8"><use href="#CR" x="448"/></g><g id="k45_9"><use href="#CR" x="500"/></g><g id="k45_10"><use href="#BR" x="552"/></g><g id="k45_11"><use href="#BR" x="604"/></g><g id="k45_12"><use href="#BR" x="656"/></g><g id="k45_13"><use href="#BR" x="708"/></g><g id="k45_14"><use href="#BR" x="760"/></g><g id="k45_15"><use href="#BR" x="812"/></g></g>
<g transform="translate(0,2402)"><g id="k46_1"><use href="#BL" x="84"/></g><g id="k46_2"><use href="#BL" x="136"/></g><g id="k46_3"><use href="#BL" x="188"/></g><g id="k46_4"><use href="#BL" x="240"/></g><g id="k46_5"><use href="#BL" x="292"/></g><g id="k46_6"><use href="#BL" x="344"/></g><g id="k46_7"><use href="#BL" x="396"/></g><g id="k46_8"><use href="#BL" x="448"/></g><g id="k46_9"><use href="#BL" x="500"/></g><g id="k46_10"><use href="#BL" x="552"/></g><g id="k46_11"><use href="#BL" x="604"/></g><g id="k46_12"><use href="#BL" x="656"/></g><g id="k46_13"><use href="#BL" x="708"/></g><g id="k46_14"><use href="#BL" x="760"/></g><g id="k46_15"><use href="#BL" x="812"/></g></g>
<g transform="translate(0,2454)"><g id="k47_1"><use href="#BR" x="84"/></g><g id="k47_2"><use href="#BR" x="136"/></g><g id="k47_3"><use href="#BR" x="188"/></g><g id="k47_4"><use href="#CR" x="240"/></g><g id="k47_5"><use href="#CR" x="292"/></g><g id="k47_6"><use href="#BR" x="344"/></g><g id="k47_7"><use href="#BR" x="396"/></g><g id="k47_8"><use href="#BR" x="448"/></g><g id="k47_9"><use href="#BR" x="500"/></g><g id="k47_10"><use href="#BR" x="552"/></g><g id="k47_11"><use href="#BR" x="604"/></g><g id="k47_12"><use href="#BR" x="656"/></g><g id="k47_13"><use href="#BR" x="708"/></g><g id="k47_14"><use href="#BR" x="760"/></g><g id="k47_15"><use href="#BR" x="812"/></g></g>
<g transform="translate(0,2506)"><g id="k48_1"><use href="#BL" x="84"/></g><g id="k48_2"><use href="#BL" x="136"/></g><g id="k48_3"><use href="#CL" x="188"/></g><g id="k48_4"><use href="#CL" x="240"/></g><g id="k48_5"><use href="#CL" x="292"/></g><g id="k48_6"><use href="#CL" x="344"/></g><g id="k48_7"><use href="#BL" x="396"/></g><g id="k48_8"><use href="#CL" x="448"/></g><g id="k48_9"><use href="#BL" x="500"/></g><g id="k48_10"><use href="#BL" x="552"/></g><g id="k48_11"><use href="#BL" x="604"/></g><g id="k48_12"><use href="#BL" x="656"/></g><g id="k48_13"><use href="#BL" x="708"/></g><g id="k48_14"><use href="#BL" x="760"/></g><g id="k48_15"><use href="#BL" x="812"/></g></g>
<g transform="translate(0,2558)"><g id="k49_1"><use href="#BR" x="84"/></g><g id="k49_2"><use href="#BR" x="136"/></g><g id="k49_3"><use href="#CR" x="188"/></g><g id="k49_4"><use href="#CR" x="240"/></g><g id="k49_5"><use href="#CR" x="292"/></g><g id="k49_6"><use href="#CR" x="344"/></g><g id="k49_7"><use href="#BR" x="396"/></g><g id="k49_8"><use href="#CR" x="448"/></g><g id="k49_9"><use href="#CR" x="500"/></g><g id="k49_10"><use href="#BR" x="552"/></g><g id="k49_11"><use href="#BR" x="604"/></g><g id="k49_12"><use href="#BR" x="656"/></g><g id="k49_13"><use href="#BR" x="708"/></g><g id="k49_14"><use href="#BR" x="760"/></g><g id="k49_15"><use href="#BR" x="812"/></g></g>
<g transform="translate(0,2610)"><g id="k50_1"><use href="#BL" x="84"/></g><g id="k50_2"><use href="#BL" x="136"/></g><g id="k50_3"><use href="#CL" x="188"/></g><g id="k50_4"><use href="#CL" x="240"/></g><g id="k50_5"><use href="#BL" x="292"/></g><g id="k50_6"><use href="#BL" x="344"/></g><g id="k50_7"><use href="#CL" x="396"/></g><g id="k50_8"><use href="#BL" x="448"/></g><g id="k50_9"><use href="#CL" x="500"/></g><g id="k50_10"><use href="#BL" x="552"/></g><g id="k50_11"><use href="#BL" x="604"/></g><g id="k50_12"><use href="#BL" x="656"/></g><g id="k50_13"><use href="#BL" x="708"/></g><g id="k50_14"><use href="#BL" x="760"/></g><g id="k50_15"><use href="#BL" x="812"/></g></g>
<g transform="translate(0,2662)"><g id="k51_1"><use href="#BR" x="84"/></g><g id="k51_2"><use href="#BR" x="136"/></g><g id="k51_3"><use href="#CR" x="188"/></g><g id="k51_4"><use href="#CR" x="240"/></g><g id="k51_5"><use href="#CR" x="292"/></g><g id="k51_6"><use href="#CR" x="344"/></g><g id="k51_7"><use href="#CR" x="396"/></g><g id="k51_8"><use href="#CR" x="448"/></g><g id="k51_9"><use href="#CR" x="500"/></g><g id="k51_10"><use href="#BR" x="552"/></g><g id="k51_11"><use href="#BR" x="604"/></g><g id="k51_12"><use href="#BR" x="656"/></g><g id="k51_13"><use href="#BR" x="708"/></g><g id="k51_14"><use href="#BR" x="760"/></g><g id="k51_15"><use href="#BR" x="812"/></g></g>
<g transform="translate(0,2714)"><g id="k52_1"><use href="#BL" x="84"/></g><g id="k52_2"><use href="#BL" x="136"/></g><g id="k52_3"><use href="#CL" x="188"/></g><g id="k52_4"><use href="#CL" x="240"/></g><g id="k52_5"><use href="#CL" x="292"/></g><g id="k52_6"><use href="#CL" x="344"/></g><g id="k52_7"><use href="#CL" x="396"/></g><g id="k52_8"><use href="#CL" x="448"/></g><g id="k52_9"><use href="#CL" x="500"/></g><g id="k52_10"><use href="#BL" x="552"/></g><g id="k52_11"><use href="#BL" x="604"/></g><g id="k52_12"><use href="#BL" x="656"/></g><g id="k52_13"><use href="#BL" x="708"/></g><g id="k52_14"><use href="#BL" x="760"/></g><g id="k52_15"><use href="#BL" x="812"/></g></g>
<g transform="translate(0,2766)"><g id="k53_1"><use href="#BR" x="84"/></g><g id="k53_2"><use href="#BR" x="136"/></g><g id="k53_3"><use href="#BR" x="188"/></g><g id="k53_4"><use href="#CR" x="240"/></g><g id="k53_5"><use href="#CR" x="292"/></g><g id="k53_6"><use href="#CR" x="344"/></g><g id="k53_7"><use href="#BR" x="396"/></g><g id="k53_8"><use href="#BR" x="448"/></g><g id="k53_9"><use href="#BR" x="500"/></g><g id="k53_10"><use href="#BR" x="552"/></g><g id="k53_11"><use href="#BR" x="604"/></g><g id="k53_12"><use href="#BR" x="656"/></g><g id="k53_13"><use href="#BR" x="708"/></g><g id="k53_14"><use href="#BR" x="760"/></g><g id="k53_15"><use href="#BR" x="812"/></g></g>
<g transform="translate(0,2818)"><g id="k54_1"><use href="#BL" x="84"/></g><g id="k54_2"><use href="#BL" x="136"/></g><g id="k54_3"><use href="#BL" x="188"/></g><g id="k54_4"><use href="#BL" x="240"/></g><g id="k54_5"><use href="#BL" x="292"/></g><g id="k54_6"><use href="#BL" x="344"/></g><g id="k54_7"><use href="#BL" x="396"/></g><g id="k54_8"><use href="#BL" x="448"/></g><g id="k54_9"><use href="#BL" x="500"/></g><g id="k54_10"><use href="#BL" x="552"/></g><g id="k54_11"><use href="#BL" x="604"/></g><g id="k54_12"><use href="#BL" x="656"/></g><g id="k54_13"><use href="#BL" x="708"/></g><g id="k54_14"><use href="#BL" x="760"/></g><g id="k54_15"><use href="#BL" x="812"/></g></g>
<g transform="translate(0,2870)"><g id="k55_1"><use href="#BR" x="84"/></g><g id="k55_2"><use href="#BR" x="136"/></g><g id="k55_3"><use href="#CR" x="188"/></g><g id="k55_4"><use href="#CR" x="240"/></g><g id="k55_5"><use href="#CR" x="292"/></g><g id="k55_6"><use href="#CR" x="344"/></g><g id="k55_7"><use href="#BR" x="396"/></g><g id="k55_8"><use href="#BR" x="448"/></g><g id="k55_9"><use href="#BR" x="500"/></g><g id="k55_10"><use href="#BR" x="552"/></g><g id="k55_11"><use href="#BR" x="604"/></g><g id="k55_12"><use href="#CR" x="656"/></g><g id="k55_13"><use href="#BR" x="708"/></g><g id="k55_14"><use href="#BR" x="760"/></g><g id="k55_15"><use href="#BR" x="812"/></g></g>
<g transform="translate(0,2922)"><g id="k56_1"><use href="#BL" x="84"/></g><g id="k56_2"><use href="#BL" x="136"/></g><g id="k56_3"><use href="#CL" x="188"/></g><g id="k56_4"><use href="#CL" x="240"/></g><g id="k56_5"><use href="#CL" x="292"/></g><g id="k56_6"><use href="#CL" x="344"/></g><g id="k56_7"><use href="#CL" x="396"/></g><g id="k56_8"><use href="#CL" x="448"/></g><g id="k56_9"><use href="#CL" x="500"/></g><g id="k56_10"><use href="#CL" x="552"/></g><g id="k56_11"><use href="#CL" x="604"/></g><g id="k56_12"><use href="#CL" x="656"/></g><g id="k56_13"><use href="#CL" x="708"/></g><g id="k56_14"><use href="#BL" x="760"/></g><g id="k56_15"><use href="#BL" x="812"/></g></g>
<g transform="translate(0,2974)"><g id="k57_1"><use href="#BR" x="84"/></g><g id="k57_2"><use href="#BR" x="136"/></g><g id="k57_3"><use href="#CR" x="188"/></g><g id="k57_4"><use href="#CR" x="240"/></g><g id="k57_5"><use href="#CR" x="292"/></g><g id="k57_6"><use href="#CR" x="344"/></g><g id="k57_7"><use href="#CR" x="396"/></g><g id="k57_8"><use href="#CR" x="448"/></g><g id="k57_9"><use href="#CR" x="500"/></g><g id="k57_10"><use href="#CR" x="552"/></g><g id="k57_11"><use href="#CR" x="604"/></g><g id="k57_12"><use href="#CR" x="656"/></g><g id="k57_13"><use href="#CR" x="708"/></g><g id="k57_14"><use href="#BR" x="760"/></g><g id="k57_15"><use href="#BR" x="812"/></g></g>
<g transform="translate(0,3026)"><g id="k58_1"><use href="#BL" x="84"/></g><g id="k58_2"><use href="#BL" x="136"/></g><g id="k58_3"><use href="#CL" x="188"/></g><g id="k58_4"><use href="#CL" x="240"/></g><g id="k58_5"><use href="#BL" x="292"/></g><g id="k58_6"><use href="#BL" x="344"/></g><g id="k58_7"><use href="#BL" x="396"/></g><g id="k58_8"><use href="#BL" x="448"/></g><g id="k58_9"><use href="#BL" x="500"/></g><g id="k58_10"><use href="#BL" x="552"/></g><g id="k58_11"><use href="#BL" x="604"/></g><g id="k58_12"><use href="#BL" x="656"/></g><g id="k58_13"><use href="#BL" x="708"/></g><g id="k58_14"><use href="#BL" x="760"/></g><g id="k58_15"><use href="#BL" x="812"/></g></g>
<g transform="translate(0,3078)"><g id="k59_1"><use href="#BR" x="84"/></g><g id="k59_2"><use href="#BR" x="136"/></g><g id="k59_3"><use href="#BR" x="188"/></g><g id="k59_4"><use href="#BR" x="240"/></g><g id="k59_5"><use href="#BR" x="292"/></g><g id="k59_6"><use href="#BR" x="344"/></g><g id="k59_7"><use href="#BR" x="396"/></g><g id="k59_8"><use href="#BR" x="448"/></g><g id="k59_9"><use href="#BR" x="500"/></g><g id="k59_10"><use href="#BR" x="552"/></g><g id="k59_11"><use href="#BR" x="604"/></g><g id="k59_12"><use href="#BR" x="656"/></g><g id="k59_13"><use href="#BR" x="708"/></g><g id="k59_14"><use href="#BR" x="760"/></g><g id="k59_15"><use href="#BR" x="812"/></g></g>
<g transform="translate(0,3130)"><g id="k60_1"><use href="#BL" x="84"/></g><g id="k60_2"><use href="#BL" x="136"/></g><g id="k60_3"><use href="#CL" x="188"/></g><g id="k60_4"><use href="#CL" x="240"/></g><g id="k60_5"><use href="#CL" x="292"/></g><g id="k60_6"><use href="#CL" x="344"/></g><g id="k60_7"><use href="#BL" x="396"/></g><g id="k60_8"><use href="#BL" x="448"/></g><g id="k60_9"><use href="#BL" x="500"/></g><g id="k60_10"><use href="#BL" x="552"/></g><g id="k60_11"><use href="#BL" x="604"/></g><g id="k60_12"><use href="#CL" x="656"/></g><g id="k60_13"><use href="#BL" x="708"/></g><g id="k60_14"><use href="#BL" x="760"/></g><g id="k60_15"><use href="#BL" x="812"/></g></g>
<g transform="translate(0,3182)"><g id="k61_1"><use href="#BR" x="84"/></g><g id="k61_2"><use href="#BR" x="136"/></g><g id="k61_3"><use href="#CR" x="188"/></g><g id="k61_4"><use href="#CR" x="240"/></g><g id="k61_5"><use href="#CR" x="292"/></g><g id="k61_6"><use href="#CR" x="344"/></g><g id="k61_7"><use href="#CR" x="396"/></g><g id="k61_8"><use href="#CR" x="448"/></g><g id="k61_9"><use href="#CR" x="500"/></g><g id="k61_10"><use href="#CR" x="552"/></g><g id="k61_11"><use href="#CR" x="604"/></g><g id="k61_12"><use href="#CR" x="656"/></g><g id="k61_13"><use href="#CR" x="708"/></g><g id="k61_14"><use href="#BR" x="760"/></g><g id="k61_15"><use href="#BR" x="812"/></g></g>
<g transform="translate(0,3234)"><g id="k62_1"><use href="#BL" x="84"/></g><g id="k62_2"><use href="#BL" x="136"/></g><g id="k62_3"><use href="#CL" x="188"/></g><g id="k62_4"><use href="#CL" x="240"/></g><g id="k62_5"><use href="#CL" x="292"/></g><g id="k62_6"><use href="#CL" x="344"/></g><g id="k62_7"><use href="#CL" x="396"/></g><g id="k62_8"><use href="#CL" x="448"/></g><g id="k62_9"><use href="#CL" x="500"/></g><g id="k62_10"><use href="#CL" x="552"/></g><g id="k62_11"><use href="#CL" x="604"/></g><g id="k62_12"><use href="#CL" x="656"/></g><g id="k62_13"><use href="#CL" x="708"/></g><g id="k62_14"><use href="#BL" x="760"/></g><g id="k62_15"><use href="#BL" x="812"/></g></g>
<g transform="translate(0,3286)"><g id="k63_1"><use href="#BR" x="84"/></g><g id="k63_2"><use href="#BR" x="136"/></g><g id="k63_3"><use href="#CR" x="188"/></g><g id="k63_4"><use href="#CR" x="240"/></g><g id="k63_5"><use href="#BR" x="292"/></g><g id="k63_6"><use href="#BR" x="344"/></g><g id="k63_7"><use href="#BR" x="396"/></g><g id="k63_8"><use href="#BR" x="448"/></g><g id="k63_9"><use href="#BR" x="500"/></g><g id="k63_10"><use href="#BR" x="552"/></g><g id="k63_11"><use href="#BR" x="604"/></g><g id="k63_12"><use href="#BR" x="656"/></g><g id="k63_13"><use href="#BR" x="708"/></g><g id="k63_14"><use href="#BR" x="760"/></g><g id="k63_15"><use href="#BR" x="812"/></g></g>
<g transform="translate(0,3338)"><g id="k64_1"><use href="#BL" x="84"/></g><g id="k64_2"><use href="#BL" x="136"/></g><g id="k64_3"><use href="#BL" x="188"/></g><g id="k64_4"><use href="#BL" x="240"/></g><g id="k64_5"><use href="#BL" x="292"/></g><g id="k64_6"><use href="#BL" x="344"/></g><g id="k64_7"><use href="#BL" x="396"/></g><g id="k64_8"><use href="#BL" x="448"/></g><g id="k64_9"><use href="#BL" x="500"/></g><g id="k64_10"><use href="#BL" x="552"/></g><g id="k64_11"><use href="#BL" x="604"/></g><g id="k64_12"><use href="#BL" x="656"/></g><g id="k64_13"><use href="#BL" x="708"/></g><g id="k64_14"><use href="#BL" x="760"/></g><g id="k64_15"><use href="#BL" x="812"/></g></g>
<g transform="translate(0,3390)"><g id="k65_1"><use href="#BR" x="84"/></g><g id="k65_2"><use href="#BR" x="136"/></g><g id="k65_3"><use href="#BR" x="188"/></g><g id="k65_4"><use href="#BR" x="240"/></g><g id="k65_5"><use href="#BR" x="292"/></g><g id="k65_6"><use href="#BR" x="344"/></g><g id="k65_7"><use href="#BR" x="396"/></g><g id="k65_8"><use href="#BR" x="448"/></g><g id="k65_9"><use href="#BR" x="500"/></g><g id="k65_10"><use href="#BR" x="552"/></g><g id="k65_11"><use href="#BR" x="604"/></g><g id="k65_12"><use href="#BR" x="656"/></g><g id="k65_13"><use href="#BR" x="708"/></g><g id="k65_14"><use href="#BR" x="760"/></g><g id="k65_15"><use href="#BR" x="812"/></g></g>
</g>
<text class="wm" x="448" y="1757">BRACELETBOOK.COM</text>
</svg>
